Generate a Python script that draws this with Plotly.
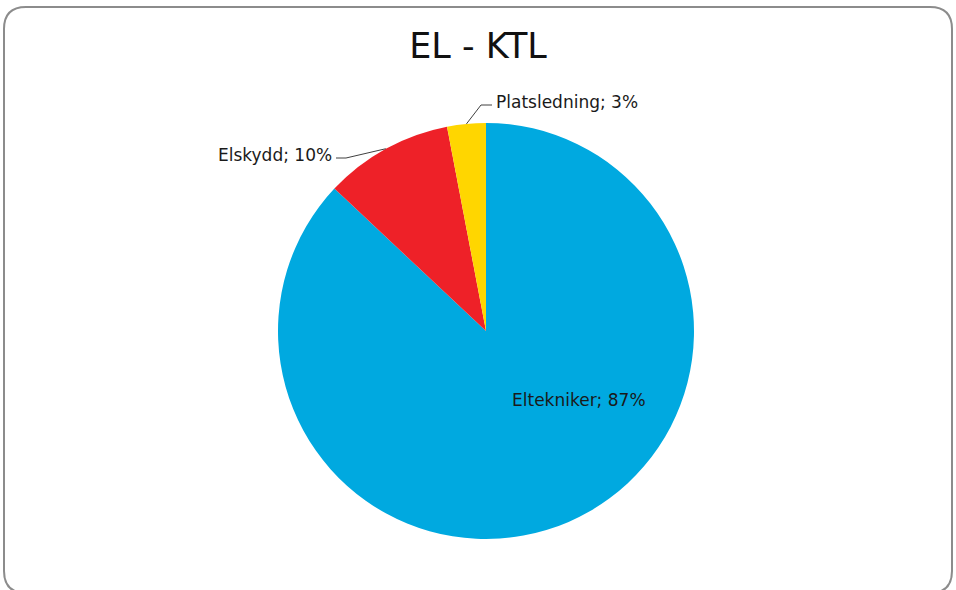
import math
import plotly.graph_objects as go

# Fördelning EL - KTL
categories = ["Eltekniker", "Elskydd", "Platsledning"]
shares = [87, 10, 3]
colors = ["#00A9E0", "#EE2128", "#FFD600"]

W, H = 956, 590
CX, CY, R = 486, 331, 208  # pie centre and radius in pixels

def px(x):
    return x / W

def py(y):
    return 1 - y / H

fig = go.Figure(go.Pie(
    labels=categories,
    values=shares,
    marker=dict(colors=colors, line=dict(width=0)),
    sort=False,
    direction="clockwise",
    rotation=0,
    textinfo="none",
    hoverinfo="label+percent",
    domain=dict(x=[px(CX - R), px(CX + R)], y=[py(CY + R), py(CY - R)]),
    showlegend=False,
))

font_family = "'DejaVu Sans', sans-serif"
label_font = dict(family=font_family, size=17, color="#1a1a1a")

total = sum(shares)
cum = 0
mid_pts = {}
for name, v in zip(categories, shares):
    mid = (cum + v / 2) / total * 2 * math.pi
    mid_pts[name] = (CX + R * math.sin(mid), CY - R * math.cos(mid))
    cum += v

shapes = []
annotations = []

# Outer rounded frame
x0, x1, y0, y1, rr = 4, 952, 7, 593, 22
frame = (f"M {px(x0+rr)},{py(y0)} L {px(x1-rr)},{py(y0)} "
         f"Q {px(x1)},{py(y0)} {px(x1)},{py(y0+rr)} "
         f"L {px(x1)},{py(y1-rr)} Q {px(x1)},{py(y1)} {px(x1-rr)},{py(y1)} "
         f"L {px(x0+rr)},{py(y1)} Q {px(x0)},{py(y1)} {px(x0)},{py(y1-rr)} "
         f"L {px(x0)},{py(y0+rr)} Q {px(x0)},{py(y0)} {px(x0+rr)},{py(y0)} Z")
shapes.append(dict(type="path", path=frame, xref="paper", yref="paper",
                   line=dict(color="#8c8c8c", width=2), layer="above"))

# Leader line + label for the small slices
def leader(name, value, elbow, end, text_x, anchor):
    sx, sy = mid_pts[name]
    ex, ey = elbow
    tx, ty = end
    shapes.append(dict(type="path",
                       path=f"M {px(sx)},{py(sy)} L {px(ex)},{py(ey)} L {px(tx)},{py(ty)}",
                       xref="paper", yref="paper",
                       line=dict(color="#404040", width=1)))
    annotations.append(dict(text=f"{name}; {value}%", x=px(text_x), y=py(ty - 3),
                            xref="paper", yref="paper", xanchor=anchor, yanchor="middle",
                            showarrow=False, font=label_font))

leader("Platsledning", shares[2], (481, 105), (492, 105), 494, "left")
leader("Elskydd", shares[1], (346, 158), (336, 158), 334, "right")

annotations.append(dict(text=f"{categories[0]}; {shares[0]}%", x=px(579), y=py(400),
                        xref="paper", yref="paper", xanchor="center", yanchor="middle",
                        showarrow=False, font=label_font))

fig.update_layout(
    width=W, height=H,
    margin=dict(l=0, r=0, t=0, b=0),
    paper_bgcolor="white",
    plot_bgcolor="white",
    title=dict(text="EL - KTL", x=0.5, xanchor="center", y=py(46), yanchor="middle",
               font=dict(family=font_family, size=35, color="#111111")),
    shapes=shapes,
    annotations=annotations,
)

fig.write_html("out.html")
